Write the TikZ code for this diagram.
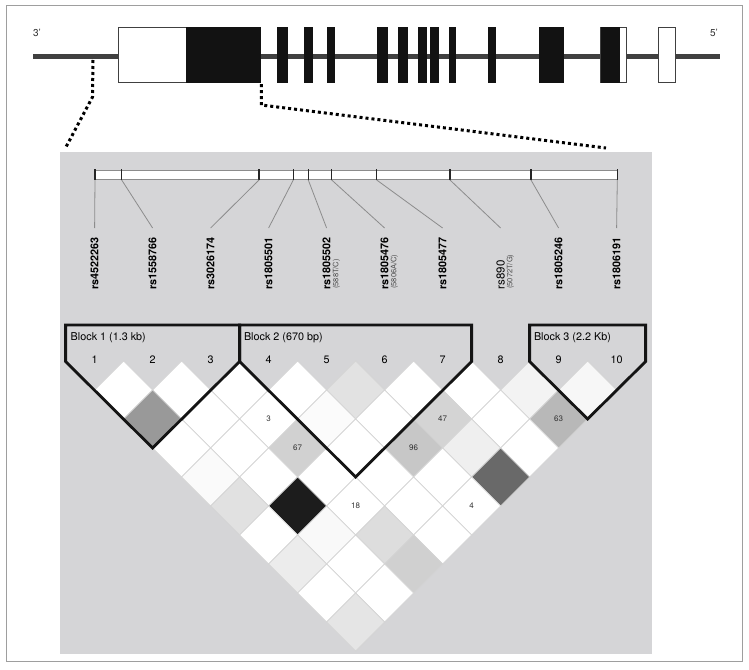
\documentclass[tikz,border=0pt]{standalone}
\usepackage{fontspec}
\setmainfont{TeX Gyre Heros}
\definecolor{panelgray}{RGB}{213,213,215}
\begin{document}
\begin{tikzpicture}[x=1pt,y=-1pt,
  exonB/.style={fill=black!93,draw=none},
  exonW/.style={fill=white,draw=black!75,line width=0.9pt},
  zoomline/.style={line width=3pt,dash pattern=on 3pt off 3pt,black},
  snpline/.style={draw=black!45,line width=0.8pt},
  snptick/.style={draw=black!85,line width=1.1pt},
  rslab/.style={rotate=90,anchor=west,inner sep=0pt,font=\fontsize{10.8}{12}\selectfont\bfseries},
  rslabn/.style={rotate=90,anchor=west,inner sep=0pt,font=\fontsize{11.5}{12}\selectfont},
  rssub/.style={rotate=90,anchor=west,inner sep=0pt,font=\fontsize{7.5}{9}\selectfont,text=black!70},
  blockline/.style={draw=black!92,line width=2.8pt,line join=miter},
  blocklab/.style={anchor=west,inner sep=0pt,font=\fontsize{10.8}{12}\selectfont},
  numlab/.style={inner sep=0pt,font=\fontsize{10.8}{12}\selectfont},
  celllab/.style={inner sep=0pt,font=\fontsize{8}{9}\selectfont,text=black!80},
  cellline/.style={draw=black!17,line width=0.8pt},
  primelab/.style={inner sep=0pt,font=\fontsize{10}{12}\selectfont,text=black!80},
]
\useasboundingbox (0,0) rectangle (749,669);
\fill[white] (0,0) rectangle (749,669);
\draw[black!38,line width=1.3pt] (6.5,5.5) rectangle (742.3,661.7);
% panel
\fill[panelgray] (60,152) rectangle (652,654.3);

% ---------- gene structure ----------
\draw[line width=5pt,black!75] (33,57) -- (720,57);
\draw[exonW] (118.5,27.3) rectangle (186.3,82.7);
\draw[exonW] (600.6,27.3) rectangle (626.9,82.7);
\draw[exonW] (658.4,27.3) rectangle (675.6,82.7);
\foreach \a/\b in {186.3/261.3, 277/288, 304.3/313.4, 326.8/335.4, 376.5/387.5,
  398/407.5, 418/427, 430/439, 448.6/456.3, 488.3/496, 539/563.8, 600.6/620.2}
  \fill[exonB] (\a,27.3) rectangle (\b,82.7);
\node[primelab] (p3) at (37,33) {3\textquoteright};
\node[primelab] (p5) at (714,33) {5\textquoteright};

% zoom lines
\coordinate (zl0) at (93,60);
\coordinate (zl1) at (92.5,97);
\coordinate (zl2) at (66,147);
\coordinate (zr0) at (261.3,84);
\coordinate (zr1) at (261.3,105);
\coordinate (zr2) at (606,148);
\draw[zoomline] (zl0) -- (zl1) -- (zl2);
\draw[zoomline] (zr0) -- (zr1) -- (zr2);

% ---------- SNP bar ----------
\draw[draw=black!45,fill=white,line width=0.7pt] (95,170) rectangle (617.3,179.3);
\foreach \k/\t in {1/95,2/121.7,3/259,4/293.3,5/308.3,6/331.7,7/376.7,8/450,9/531,10/617.3}{
  \draw[snptick] (\t,169.3) -- (\t,180.3);
  \coordinate (t\k) at (\t,180);
  \coordinate (l\k) at ({94.6+58*(\k-1)},228);
  \draw[snpline] (t\k) -- (l\k);
}
\foreach \k/\s in {1/rs4522263,2/rs1558766,3/rs3026174,4/rs1805501,5/rs1805502,
  6/rs1805476,7/rs1805477,9/rs1805246,10/rs1806191}
  \node[rslab] (n\k) at ({94.6+58*(\k-1)},289.5) {\s};
\node[rslabn] (n8) at ({94.6+58*7},289.5) {rs890};
\node[rssub] (s5) at ({94.6+58*4+9.8},289) {(588T/C)};
\node[rssub] (s6) at ({94.6+58*5+9.8},289) {(5806A/C)};
\node[rssub] (s8) at ({94.6+58*7+9.8},289) {(5072T/G)};

% ---------- LD cells ----------
\foreach \i/\j/\g in {
  1/2/1, 2/3/1, 3/4/1, 4/5/1, 5/6/0.886, 6/7/1, 7/8/1, 8/9/0.953, 9/10/0.97,
  1/3/0.6, 2/4/1, 3/5/1, 4/6/0.985, 5/7/1, 6/8/0.83, 7/9/1, 8/10/0.72,
  1/4/1, 2/5/1, 3/6/0.82, 4/7/1, 5/8/0.78, 6/9/0.937, 7/10/1,
  1/5/0.98, 2/6/1, 3/7/1, 4/8/1, 5/9/1, 6/10/0.41,
  1/6/0.883, 2/7/0.11, 3/8/1, 4/9/1, 5/10/1,
  1/7/1, 2/8/0.976, 3/9/0.865, 4/10/1,
  1/8/0.925, 2/9/1, 3/10/0.815,
  1/9/1, 2/10/1,
  1/10/0.9}{
  \definecolor{cellc}{gray}{\g}
  \pgfmathsetmacro\cx{94.6+29*(\i+\j-2)}
  \pgfmathsetmacro\cy{390+29*(\j-\i-1)}
  \filldraw[cellline,fill=cellc] (\cx,{\cy-29}) -- ({\cx+29},\cy) -- (\cx,{\cy+29}) -- ({\cx-29},\cy) -- cycle;
}
\foreach \i/\j/\v in {3/5/3, 3/6/67, 6/8/47, 5/8/96, 8/10/63, 3/8/18, 5/10/4}
  \node[celllab] (c\i-\j) at ({94.6+29*(\i+\j-2)},{390+29*(\j-\i-1)}) {\v};

% ---------- blocks ----------
\draw[blockline] (65.6,361.5) -- (65.6,325) -- (239.6,325) -- (239.6,361.5) -- (152.6,448) -- cycle;
\draw[blockline] (239.6,361.5) -- (239.6,325) -- (471.6,325) -- (471.6,361.5) -- (355.6,477) -- cycle;
\draw[blockline] (529.6,361.5) -- (529.6,325) -- (645.6,325) -- (645.6,361.5) -- (587.6,419) -- cycle;
\node[blocklab] (b1) at (70.5,337.7) {Block 1 (1.3 kb)};
\node[blocklab] (b2) at (243.8,337.7) {Block 2 (670 bp)};
\node[blocklab] (b3) at (533.8,337.7) {Block 3 (2.2 Kb)};
\foreach \k in {1,...,10}
  \node[numlab] (m\k) at ({94.6+58*(\k-1)},360) {\k};
\end{tikzpicture}
\end{document}
